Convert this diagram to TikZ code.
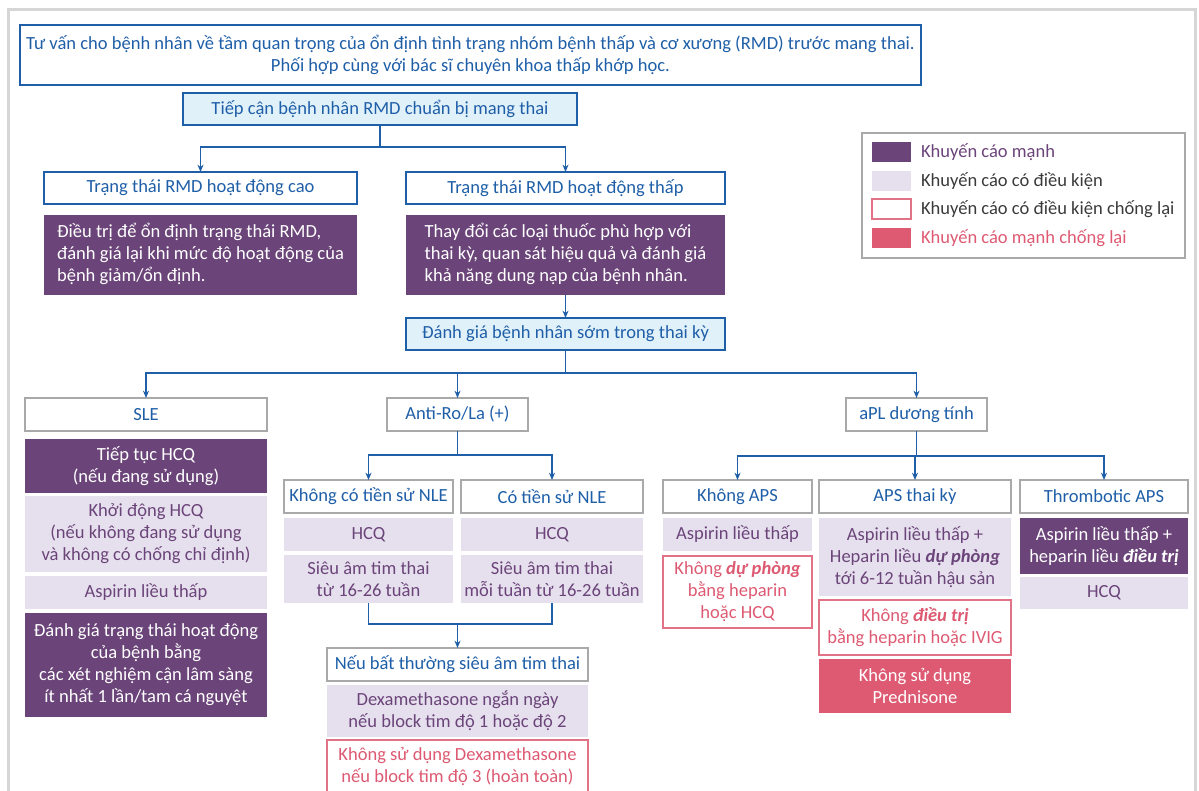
\documentclass[tikz,border=0pt]{standalone}
\usepackage{fontspec}
\setmainfont{Carlito}
\usepackage{xcolor}
\usetikzlibrary{arrows.meta,positioning}

\definecolor{rmdblue}{HTML}{1F5FA8}
\definecolor{rmdsky}{HTML}{E1F1FA}
\definecolor{rmdplum}{HTML}{6B4479}
\definecolor{rmdlilac}{HTML}{E6E0EE}
\definecolor{rmdrose}{HTML}{DD5A72}
\definecolor{rmdgrey}{HTML}{A9A9A9}
\definecolor{rmdframe}{HTML}{D6D6D6}
\definecolor{rmdink}{HTML}{3A3A3A}

\newcommand{\kw}[1]{\textbf{\textit{#1}}}

\begin{document}
\begin{tikzpicture}[
  % --- global style (1 unit = 1 px, y grows downwards) ---
  x=0.75pt, y=-0.75pt,
  >=Stealth,
  every node/.style={font=\fontsize{13.9}{16.5}\selectfont, align=center,
    inner sep=0pt, outer sep=0pt},
  % cell={left}{top}{right}{bottom}
  cell/.style n args={4}{
    minimum width={(#3-#1)*0.75pt}, minimum height={(#4-#2)*0.75pt},
    at={({(#1+#3)/2},{(#2+#4)/2})}
  },
  box/.style={draw, line width=1pt, fill=white},
  blubox/.style={box, draw=rmdblue, text=rmdblue},
  skybox/.style={blubox, fill=rmdsky},
  grybox/.style={box, draw=rmdgrey, text=rmdblue},
  strongbox/.style={fill=rmdplum, text=white},
  condbox/.style={fill=rmdlilac, text=rmdplum},
  againstbox/.style={box, draw=rmdrose!85, text=rmdrose},
  strongagainst/.style={fill=rmdrose, text=white},
  link/.style={draw=rmdblue, line width=1pt},
  arr/.style={link, -{Stealth[length=5.5pt,width=4.5pt]}},
]
\useasboundingbox (0,0) rectangle (1199,791);
\clip (0,0) rectangle (1199,791);

% outer frame of the page
\draw[rmdframe, line width=2.25pt] (8.5,800) |- (1195.5,9.5) -- (1195.5,800);

% ====== Top: counselling + approach ======
\node[blubox, cell={20}{25}{921}{85}] (counsel)
  {Tư vấn cho bệnh nhân về tầm quan trọng của ổn định tình trạng nhóm bệnh thấp và cơ xương (RMD) trước mang thai.\\
   Phối hợp cùng với bác sĩ chuyên khoa thấp khớp học.};
\node[skybox, cell={183}{93}{577}{125}] (approach)
  {Tiếp cận bệnh nhân RMD chuẩn bị mang thai};

% --- disease activity ---
\node[blubox, cell={44}{172}{357}{204}] (high) {Trạng thái RMD hoạt động cao};
\node[blubox, cell={406}{172}{725}{204}] (low) {Trạng thái RMD hoạt động thấp};
\node[strongbox, cell={44}{215}{357}{295}] (highact)
  {\begin{tabular}{@{}l@{}}Điều trị để ổn định trạng thái RMD,\\
   đánh giá lại khi mức độ hoạt động của\\ bệnh giảm/ổn định.\end{tabular}};
\node[strongbox, cell={406}{215}{725}{295}] (lowact)
  {\begin{tabular}{@{}l@{}}Thay đổi các loại thuốc phù hợp với\\
   thai kỳ, quan sát hiệu quả và đánh giá\\ khả năng dung nạp của bệnh nhân.\end{tabular}};
\node[skybox, cell={406}{318}{725}{350}] (early) {Đánh giá bệnh nhân sớm trong thai kỳ};

% ====== Three patient groups ======
\node[grybox, cell={25}{398}{267}{431}] (sle) {SLE};
\node[grybox, cell={387}{398}{528}{431}] (anti) {Anti-Ro/La (+)};
\node[grybox, cell={846}{398}{987}{431}] (apl) {aPL dương tính};

% --- SLE column ---
\node[strongbox, cell={25}{439}{267}{493}] (sle1) {Tiếp tục HCQ\\(nếu đang sử dụng)};
\node[condbox, cell={25}{496}{267}{572}] (sle2)
  {Khởi động HCQ\\(nếu không đang sử dụng\\và không có chống chỉ định)};
\node[condbox, cell={25}{576}{267}{609}] (sle3) {Aspirin liều thấp};
\node[strongbox, cell={25}{613}{267}{717}] (sle4)
  {Đánh giá trạng thái hoạt động\\của bệnh bằng\\các xét nghiệm cận lâm sàng\\ít nhất 1 lần/tam cá nguyệt};

% --- Anti-Ro/La column ---
\node[grybox, cell={284}{480}{453}{513}] (nonle) {Không có tiền sử NLE};
\node[grybox, cell={461}{480}{643}{513}] (hasnle) {Có tiền sử NLE};
\node[condbox, cell={284}{518}{453}{551}] (nohcq) {HCQ};
\node[condbox, cell={461}{518}{643}{551}] (hashcq) {HCQ};
\node[condbox, cell={284}{555}{453}{603}] (noecho) {Siêu âm tim thai\\từ 16-26 tuần};
\node[condbox, cell={461}{555}{643}{603}] (hasecho) {Siêu âm tim thai\\mỗi tuần từ 16-26 tuần};
\coordinate (join) at (457.5,624);
\node[grybox, cell={327}{648}{588}{681}] (abnormal) {Nếu bất thường siêu âm tim thai};
\node[condbox, cell={327}{685}{588}{737}] (dexa)
  {Dexamethasone ngắn ngày\\nếu block tim độ 1 hoặc độ 2};
\node[againstbox, cell={327}{740}{588}{793}] (nodexa)
  {Không sử dụng Dexamethasone\\nếu block tim độ 3 (hoàn toàn)};

% --- aPL column ---
\node[grybox, cell={663}{480}{812}{513}] (noaps) {Không APS};
\node[grybox, cell={819}{480}{1011}{513}] (obaps) {APS thai kỳ};
\node[grybox, cell={1020}{480}{1188}{513}] (thraps) {Thrombotic APS};
\node[condbox, cell={663}{518}{812}{551}] (noaps1) {Aspirin liều thấp};
\node[againstbox, cell={663}{556}{812}{628}] (noaps2)
  {Không \kw{dự phòng}\\bằng heparin\\hoặc HCQ};
\node[condbox, cell={819}{518}{1011}{596}] (obaps1)
  {Aspirin liều thấp +\\Heparin liều \kw{dự phòng}\\tới 6-12 tuần hậu sản};
\node[againstbox, cell={819}{600}{1011}{655}] (obaps2)
  {Không \kw{điều trị}\\bằng heparin hoặc IVIG};
\node[strongagainst, cell={819}{659}{1011}{713}] (obaps3) {Không sử dụng\\Prednisone};
\node[strongbox, cell={1020}{518}{1188}{574}] (thraps1)
  {Aspirin liều thấp +\\heparin liều \kw{điều trị}};
\node[condbox, cell={1020}{577}{1188}{609}] (thraps2) {HCQ};

% ====== Arrows ======
\draw[arr] (approach.south) -- ++(0,22) -| (high.north);
\draw[arr] (approach.south) -- ++(0,22) -| (low.north);
\draw[arr] (lowact.south) -- (early.north);

% fan-out to the groups
\draw[arr] (early.south) -- ++(0,23) -| (sle.north);
\draw[arr] (early.south) -- ++(0,23) -| (anti.north);
\draw[arr] (early.south) -- ++(0,23) -| (apl.north);

\draw[arr] (anti.south) -- ++(0,24) -| (nonle.north);
\draw[arr] (anti.south) -- ++(0,24) -| (hasnle.north);

\draw[arr] (apl.south) -- ++(0,25) -| (noaps.north);
\draw[arr] (apl.south) -- ++(0,25) -| (obaps.north);
\draw[arr] (apl.south) -- ++(0,25) -| (thraps.north);

% fan-in to the echo finding
\draw[link] (noecho.south) |- (join);
\draw[link] (hasecho.south) |- (join);
\draw[arr] (join) -- (abnormal.north);

% ====== Legend ======
\node[draw=rmdgrey, line width=0.8pt, cell={862}{133}{1185}{258}] (legend) {};
\node[strongbox, cell={872}{142}{911}{162}] (swstrong) {};
\node[condbox, cell={872}{171}{911}{191}] (swcond) {};
\node[againstbox, line width=0.8pt, cell={872}{199}{911}{219}] (swagainst) {};
\node[strongagainst, cell={872}{228}{911}{248}] (swstrongag) {};
\node[right=7.5pt of swstrong, text=rmdplum] (lgstrong) {Khuyến cáo mạnh};
\node[right=7.5pt of swcond, text=rmdink] (lgcond) {Khuyến cáo có điều kiện};
\node[right=7.5pt of swagainst, text=rmdink] (lgagainst) {Khuyến cáo có điều kiện chống lại};
\node[right=7.5pt of swstrongag, text=rmdrose] (lgstrongag) {Khuyến cáo mạnh chống lại};

\end{tikzpicture}
\end{document}
